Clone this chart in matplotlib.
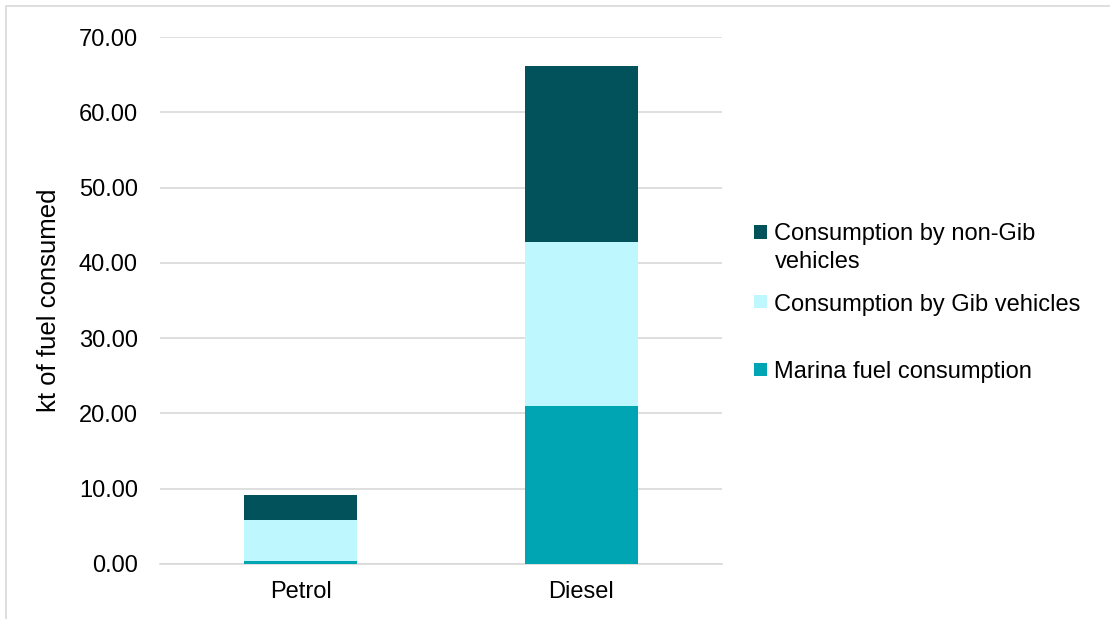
import matplotlib
matplotlib.use("Agg")
import matplotlib.pyplot as plt
from matplotlib.patches import Rectangle

categories = ["Petrol", "Diesel"]
marina = [0.35, 21.0]
gib = [5.45, 21.8]
non_gib = [3.4, 23.3]
labels = ["Marina fuel consumption", "Consumption by Gib vehicles",
          "Consumption by non-Gib\nvehicles"]
colors = ["#00A5B3", "#BEF7FD", "#02525B"]

plt.rcParams['font.family'] = ['Liberation Sans', 'DejaVu Sans']
FS = 17

fig = plt.figure(figsize=(11.1, 6.19), dpi=100)
ax = fig.add_axes([160/1110, 1-564/619, 562/1110, 527/619])

x = range(len(categories))
b1 = ax.bar(x, marina, width=0.4, color=colors[0], zorder=3)
bottom2 = list(marina)
b2 = ax.bar(x, gib, width=0.4, bottom=bottom2, color=colors[1], zorder=3)
bottom3 = [m + g for m, g in zip(marina, gib)]
b3 = ax.bar(x, non_gib, width=0.4, bottom=bottom3, color=colors[2], zorder=3)

ax.set_xlim(-0.5, 1.5)
ax.set_ylim(0, 70)
ax.set_yticks(range(0, 71, 10))
ax.set_yticklabels([f"{v:.2f}" for v in range(0, 71, 10)])
ax.set_xticks(list(x))
ax.set_xticklabels(categories)
ax.tick_params(axis='both', length=0, labelsize=FS, colors='black')
ax.tick_params(axis='y', pad=16)
ax.tick_params(axis='x', pad=12)
ax.grid(axis='y', color='#D9D9D9', linewidth=1.2, zorder=0)
for s in ['top', 'right', 'left']:
    ax.spines[s].set_visible(False)
ax.spines['bottom'].set_color('#D9D9D9')
ax.spines['bottom'].set_linewidth(1.2)
ax.set_ylabel("kt of fuel consumed", fontsize=18.5, labelpad=12.5)

# legend (manual, to match uneven spacing)
entries = [(b3, labels[2], 232), (b2, labels[1], 302), (b1, labels[0], 369.5)]
for cont, lab, ypix in entries:
    col = cont.patches[0].get_facecolor()
    fig.patches.append(Rectangle((754/1110, 1-(ypix+6.5)/619), 13/1110, 13/619,
                                 transform=fig.transFigure, facecolor=col,
                                 edgecolor='none'))
    for i, line in enumerate(lab.split("\n")):
        fig.text(774.5/1110, 1-(ypix + 28*i)/619, line, fontsize=FS,
                 va='center_baseline', ha='left')

# outer chart border
fig.patches.append(Rectangle((6/1110, -0.1), 1.2, 1-6/619+0.1,
                             transform=fig.transFigure, facecolor='none',
                             edgecolor='#D9D9D9', linewidth=1.2))

fig.savefig("out.png", dpi=100)
